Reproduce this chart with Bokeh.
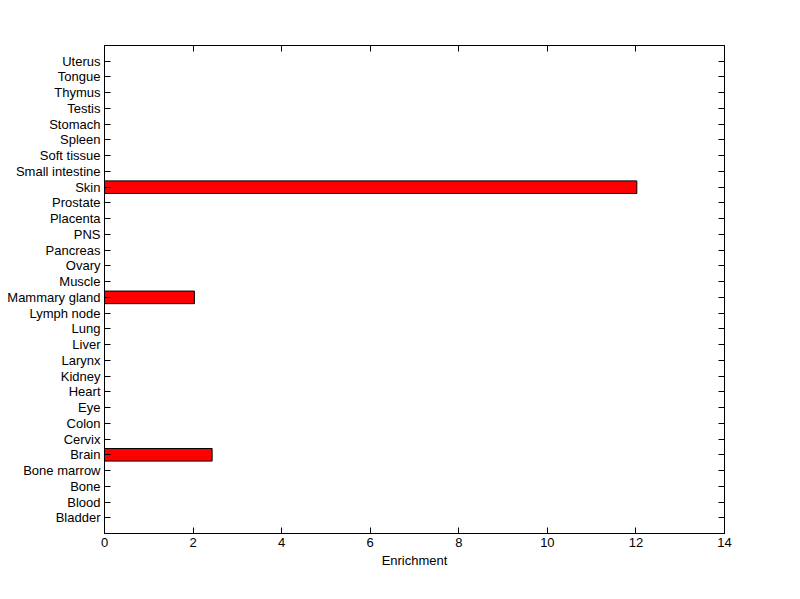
from bokeh.plotting import figure
from bokeh.models import ColumnDataSource, LinearAxis, FixedTicker, Range1d, CustomJSTickFormatter
from bokeh.embed import file_html
from bokeh.resources import INLINE

tissues = ["Bladder", "Blood", "Bone", "Bone marrow", "Brain", "Cervix", "Colon",
           "Eye", "Heart", "Kidney", "Larynx", "Liver", "Lung", "Lymph node",
           "Mammary gland", "Muscle", "Ovary", "Pancreas", "PNS", "Placenta",
           "Prostate", "Skin", "Small intestine", "Soft tissue", "Spleen",
           "Stomach", "Testis", "Thymus", "Tongue", "Uterus"]
enrichment = [0, 0, 0, 0, 2.43, 0, 0,
              0, 0, 0, 0, 0, 0, 0,
              2.03, 0, 0, 0, 0, 0,
              0, 12.02, 0, 0, 0,
              0, 0, 0, 0, 0]
x_ticks = [0, 2, 4, 6, 8, 10, 12, 14]

pos = list(range(1, len(tissues) + 1))
src = ColumnDataSource(dict(y=pos, v=enrichment, name=tissues))

FONT = "Liberation Sans"
FS = "13px"

p = figure(frame_width=620, frame_height=488, output_backend="svg",
           toolbar_location=None, x_range=Range1d(0, 14),
           y_range=Range1d(0, len(tissues) + 1),
           x_axis_location=None, y_axis_location=None,
           min_border_left=104, min_border_top=45, min_border_right=68,
           min_border_bottom=58)
p.background_fill_color = "white"
p.border_fill_color = "white"
p.outline_line_color = "black"
p.grid.visible = False

p.hbar(y="y", right="v", left=0, height=0.8, source=src,
       fill_color="#ff0000", line_color="black", line_width=1)

def style(ax, labels=True):
    ax.major_tick_in = 6
    ax.major_tick_out = 0
    ax.minor_tick_in = 0
    ax.minor_tick_out = 0
    ax.axis_line_color = "black"
    ax.major_tick_line_color = "black"
    ax.major_label_text_font = FONT
    ax.major_label_text_font_size = FS
    ax.major_label_text_color = "black"
    ax.major_label_standoff = 4
    if not labels:
        ax.formatter = CustomJSTickFormatter(code="return '';")
        ax.major_label_standoff = 0

overrides = {i: t for i, t in zip(pos, tissues)}

left = LinearAxis(ticker=FixedTicker(ticks=pos))
left.major_label_overrides = overrides
style(left)
p.add_layout(left, "left")

right = LinearAxis(ticker=FixedTicker(ticks=pos))
style(right, labels=False)
p.add_layout(right, "right")

bottom = LinearAxis(ticker=FixedTicker(ticks=x_ticks), axis_label="Enrichment")
style(bottom)
bottom.axis_label_text_font = FONT
bottom.axis_label_text_font_size = FS
bottom.axis_label_text_font_style = "normal"
bottom.axis_label_text_color = "black"
bottom.axis_label_standoff = 3
p.add_layout(bottom, "below")

top = LinearAxis(ticker=FixedTicker(ticks=x_ticks))
style(top, labels=False)
p.add_layout(top, "above")

open("out.html", "w").write(file_html(p, INLINE))
